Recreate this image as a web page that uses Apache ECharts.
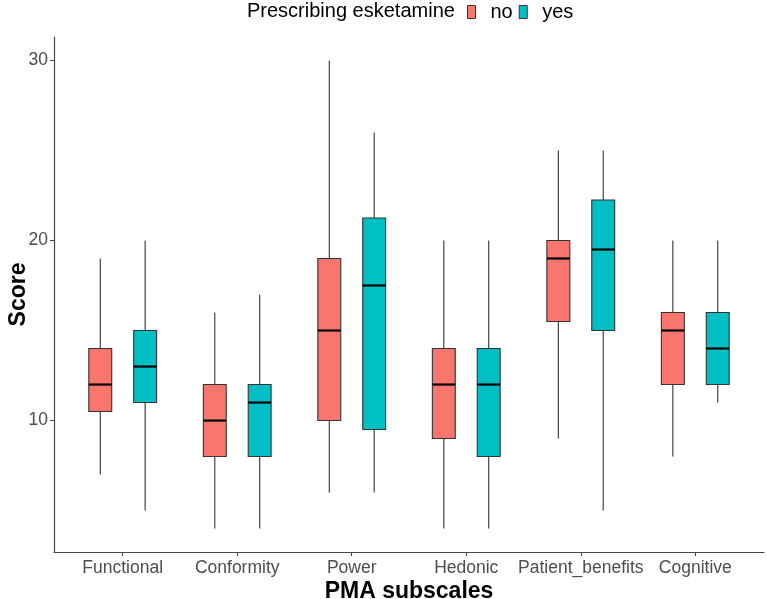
<!DOCTYPE html>
<html>
<head>
<meta charset="utf-8">
<script src="https://cdn.jsdelivr.net/npm/echarts@6/dist/echarts.min.js"></script>
<style>html,body{margin:0;padding:0;background:#fff;}#chart{width:767px;height:599px;}</style>
</head>
<body>
<div id="chart"></div>
<script>
// Data
var categories = ['Functional', 'Conformity', 'Power', 'Hedonic', 'Patient_benefits', 'Cognitive'];
var groups = ['no', 'yes'];
// [lower whisker, Q1, median, Q3, upper whisker]
var noStats = [
  [7, 10.5, 12, 14, 19],
  [4, 8, 10, 12, 16],
  [6, 10, 15, 19, 30],
  [4, 9, 12, 14, 20],
  [9, 15.5, 19, 20, 25],
  [8, 12, 15, 16, 20]
];
var yesStats = [
  [5, 11, 13, 15, 20],
  [4, 8, 11, 12, 17],
  [6, 9.5, 17.5, 21.25, 26],
  [4, 8, 12, 14, 20],
  [5, 15, 19.5, 22.25, 25],
  [11, 12, 14, 16, 20]
];
var yTicks = [10, 20, 30];
var colors = {no: '#F8766D', yes: '#00BFC4'};

function toItems(stats) {
  return stats.map(function (s, i) { return [i + 1].concat(s); });
}

function makeRender(offset, fill) {
  return function (params, api) {
    var x = api.value(0) + offset;
    var lo = api.value(1), q1 = api.value(2), med = api.value(3), q3 = api.value(4), hi = api.value(5);
    var halfW = api.size([0.2, 0])[0] / 2;
    var pLo = api.coord([x, lo]), pQ1 = api.coord([x, q1]), pMed = api.coord([x, med]);
    var pQ3 = api.coord([x, q3]), pHi = api.coord([x, hi]);
    var cx = pLo[0];
    var lineStyle = {stroke: '#333333', lineWidth: 1.1};
    return {
      type: 'group',
      children: [
        {type: 'line', shape: {x1: cx, y1: pHi[1], x2: cx, y2: pQ3[1]}, style: lineStyle},
        {type: 'line', shape: {x1: cx, y1: pQ1[1], x2: cx, y2: pLo[1]}, style: lineStyle},
        {type: 'rect', shape: {x: cx - halfW, y: pQ3[1], width: halfW * 2, height: pQ1[1] - pQ3[1]},
          style: {fill: fill, stroke: '#333333', lineWidth: 1.1}},
        {type: 'line', shape: {x1: cx - halfW, y1: pMed[1], x2: cx + halfW, y2: pMed[1]},
          style: {stroke: '#000000', lineWidth: 2.2}}
      ]
    };
  };
}

var chart = echarts.init(document.getElementById('chart'), null, {renderer: 'canvas'});
var axisColor = '#444444';
var FONT = 'Liberation Sans, Arial, sans-serif';
var option = {
  animation: false,
  backgroundColor: '#ffffff',
  textStyle: {fontFamily: FONT},
  title: {
    text: 'Prescribing esketamine',
    left: 247, top: 1, padding: 0,
    textStyle: {fontSize: 20, fontWeight: 'normal', color: '#000000', fontFamily: FONT}
  },
  legend: {
    left: 467, top: 2, padding: 0,
    itemWidth: 8, itemHeight: 13, itemGap: 6,
    textStyle: {fontSize: 20, color: '#000000', fontFamily: FONT, padding: [0, 0, 0, 10]},
    data: [
      {name: 'no', icon: 'rect', itemStyle: {color: colors.no, borderColor: '#333333', borderWidth: 1}},
      {name: 'yes', icon: 'rect', itemStyle: {color: colors.yes, borderColor: '#333333', borderWidth: 1}}
    ]
  },
  grid: {left: 54, right: 3, top: 37, bottom: 47, containLabel: false, outerBoundsMode: 'none'},
  xAxis: {
    type: 'value', min: 0.4, max: 6.6,
    name: 'PMA subscales', nameLocation: 'middle', nameGap: 28, nameMoveOverlap: false,
    nameTextStyle: {fontSize: 23, fontWeight: 'bold', color: '#000000', fontFamily: FONT},
    axisLine: {show: true, lineStyle: {color: axisColor, width: 1.2}},
    axisTick: {show: true, length: 4, lineStyle: {color: axisColor}, customValues: [1, 2, 3, 4, 5, 6]},
    axisLabel: {
      show: true, margin: 7, fontSize: 17.5, color: '#4d4d4d',
      fontFamily: FONT,
      customValues: [1, 2, 3, 4, 5, 6],
      formatter: function (v) { return categories[Math.round(v) - 1] || ''; }
    },
    splitLine: {show: false}
  },
  yAxis: {
    type: 'value', min: 2.7, max: 31.3,
    name: 'Score', nameLocation: 'middle', nameGap: 24, nameRotate: 90, nameMoveOverlap: false,
    nameTextStyle: {fontSize: 23, fontWeight: 'bold', color: '#000000', fontFamily: FONT},
    axisLine: {show: true, lineStyle: {color: axisColor, width: 1.2}},
    axisTick: {show: true, length: 4, lineStyle: {color: axisColor}, customValues: yTicks},
    axisLabel: {show: true, margin: 6, fontSize: 17.5, color: '#4d4d4d', fontFamily: FONT, customValues: yTicks},
    splitLine: {show: false}
  },
  series: [
    {
      name: 'no', type: 'custom',
      itemStyle: {color: colors.no},
      renderItem: makeRender(-0.196, colors.no),
      encode: {x: 0, y: [1, 2, 3, 4, 5]},
      data: toItems(noStats)
    },
    {
      name: 'yes', type: 'custom',
      itemStyle: {color: colors.yes},
      renderItem: makeRender(0.196, colors.yes),
      encode: {x: 0, y: [1, 2, 3, 4, 5]},
      data: toItems(yesStats)
    }
  ]
};
chart.setOption(option);
</script>
</body>
</html>
